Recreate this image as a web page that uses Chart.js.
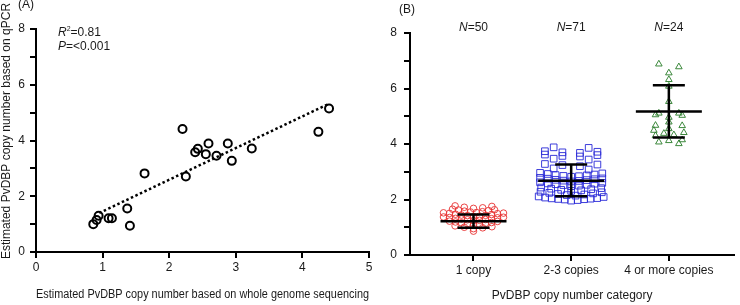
<!DOCTYPE html>
<html>
<head>
<meta charset="utf-8">
<script src="https://cdn.jsdelivr.net/npm/chart.js@4.4.1/dist/chart.umd.min.js"></script>
<style>
  html, body { margin: 0; padding: 0; background: #fff; }
  #wrap { position: relative; width: 740px; height: 305px; overflow: hidden; }
  #wgsChart { position: absolute; left: 0; top: 0; }
  #catChart { position: absolute; left: 370px; top: 0; }
</style>
</head>
<body>
<div id="wrap">
  <canvas id="wgsChart" width="400" height="305"></canvas>
  <canvas id="catChart" width="370" height="305"></canvas>
</div>
<script>
// ---- panel A: WGS estimate vs qPCR estimate ----
const wgsCopies  = [0.86, 0.91, 0.94, 1.09, 1.14, 1.37, 1.41, 1.63, 2.20, 2.25, 2.39, 2.43, 2.55, 2.59, 2.71, 2.88, 2.94, 3.24, 4.24, 4.40];
const qpcrCopies = [1.00, 1.15, 1.30, 1.21, 1.21, 1.56, 0.94, 2.82, 4.41, 2.71, 3.58, 3.70, 3.51, 3.89, 3.45, 3.89, 3.27, 3.71, 4.31, 5.15];
const fitX = [0.95, 4.40];
const fitY = [1.40, 5.32];
const statLabels = ['=0.81', '=<0.001'];

// ---- panel B: qPCR copy number by category ----
const categories = ['1 copy', '2-3 copies', '4 or more copies'];
const sampleSizes = [50, 71, 24];
const oneCopy = [
  0.86,
  0.95, 0.98, 1.00, 1.02, 1.05,
  1.09, 1.11, 1.13, 1.14, 1.16, 1.17, 1.19, 1.21, 1.22,
  1.24, 1.25, 1.27, 1.28, 1.30, 1.31, 1.32, 1.34, 1.35, 1.36, 1.37,
  1.39, 1.40, 1.42, 1.43, 1.44, 1.46, 1.47, 1.49, 1.50, 1.51, 1.52,
  1.53, 1.55, 1.56, 1.58, 1.60, 1.62, 1.63, 1.65,
  1.68, 1.70, 1.72, 1.75, 1.77
];
const twoThreeCopies = [
  1.96, 1.98, 2.00, 2.01, 2.02, 2.03, 2.04, 2.05, 2.07, 2.09, 2.11,
  2.14, 2.16, 2.18, 2.20, 2.22, 2.24, 2.26, 2.28,
  2.31, 2.33, 2.35, 2.37, 2.39, 2.41, 2.43,
  2.48, 2.50, 2.52, 2.53, 2.55, 2.57, 2.58, 2.60, 2.62,
  2.65, 2.67, 2.68, 2.70, 2.71, 2.73, 2.75, 2.76, 2.78,
  2.82, 2.84, 2.85, 2.87, 2.88, 2.90, 2.92, 2.94, 2.96,
  3.08, 3.12,
  3.20, 3.24, 3.26, 3.28,
  3.44, 3.47,
  3.55, 3.57, 3.60, 3.62,
  3.68, 3.70, 3.72, 3.74,
  3.86, 3.88
];
const fourPlusCopies = [
  4.01, 4.07, 4.12, 4.15, 4.30, 4.33, 4.38, 4.41, 4.49, 4.55, 4.66, 4.67,
  4.79, 4.96, 5.03, 5.05, 5.11, 5.11, 5.53, 6.08, 6.32, 6.56, 6.78, 6.88
];
const groupMeans = [1.22, 2.68, 5.17];
const groupUpper = [1.46, 3.26, 6.12];
const groupLower = [0.98, 2.12, 4.23];

const fontFamily = 'Arial, "Liberation Sans", sans-serif';
const ink = '#1a1a1a';
Chart.defaults.font.family = fontFamily;
Chart.defaults.font.size = 12;
Chart.defaults.color = ink;
Chart.defaults.animation = false;

const axisGrid = { display: true, drawOnChartArea: false, drawTicks: true, tickLength: 6, color: '#000', lineWidth: 2 };
const axisBorder = { display: true, color: '#000', width: 2 };

// texts for panel A
const panelAText = {
  id: 'panelAText',
  afterDraw(chart) {
    const ctx = chart.ctx;
    const area = chart.chartArea;
    ctx.save();
    ctx.fillStyle = ink;
    ctx.textBaseline = 'middle';
    ctx.textAlign = 'left';
    ctx.font = `12px ${fontFamily}`;
    ctx.fillText('(A)', 18, 5);

    const x0 = area.left + 22;
    const rows = [['R', statLabels[0], true], ['P', statLabels[1], false]];
    rows.forEach((r, i) => {
      const y0 = area.top + 4 + i * 14;
      ctx.font = `italic 12px ${fontFamily}`;
      ctx.fillText(r[0], x0, y0);
      let w = ctx.measureText(r[0]).width;
      if (r[2]) {
        ctx.font = `7px ${fontFamily}`;
        ctx.fillText('2', x0 + w, y0 - 4);
        w += ctx.measureText('2').width;
      }
      ctx.font = `12px ${fontFamily}`;
      ctx.fillText(r[1], x0 + w, y0);
    });

    // y axis title
    ctx.translate(7, 131);
    ctx.rotate(-Math.PI / 2);
    ctx.textAlign = 'center';
    ctx.fillText('Estimated PvDBP copy number based on qPCR', 0, 0);
    ctx.restore();
  }
};

new Chart(document.getElementById('wgsChart'), {
  type: 'scatter',
  data: {
    datasets: [{
      data: wgsCopies.map((x, i) => ({ x, y: qpcrCopies[i] })),
      pointStyle: 'circle',
      pointRadius: 4,
      borderColor: '#000',
      backgroundColor: 'rgba(0,0,0,0)',
      borderWidth: 2,
      order: 0
    }, {
      data: fitX.map((x, i) => ({ x, y: fitY[i] })),
      showLine: true,
      pointRadius: 0,
      borderColor: '#000',
      borderWidth: 2.5,
      borderDash: [2.5, 2.5],
      order: 1
    }]
  },
  options: {
    responsive: false,
    layout: { padding: { left: 0, right: 31, top: 29, bottom: 0 } },
    plugins: { legend: { display: false }, tooltip: { enabled: false } },
    scales: {
      x: {
        type: 'linear', min: 0, max: 5,
        ticks: { stepSize: 1, padding: 2 },
        grid: axisGrid, border: axisBorder,
        title: { display: true, text: 'Estimated PvDBP copy number based on whole genome sequencing', padding: { top: 0, bottom: 3 } },
        afterFit: s => { s.height = 53; }
      },
      y: {
        type: 'linear', min: 0, max: 8,
        ticks: { stepSize: 1, padding: 5, callback: v => (v % 2 === 0 ? v : '') },
        grid: axisGrid, border: axisBorder,
        afterFit: s => { s.width = 36; }
      }
    }
  },
  plugins: [panelAText]
});

// texts, means and SD bars for panel B
const panelBText = {
  id: 'panelBText',
  afterDatasetsDraw(chart) {
    const ctx = chart.ctx;
    const xs = chart.scales.x, ys = chart.scales.y;
    ctx.save();
    ctx.strokeStyle = '#000';
    ctx.lineWidth = 2.5;
    categories.forEach((c, i) => {
      const cx = xs.getPixelForValue(i + 1);
      const ym = ys.getPixelForValue(groupMeans[i]);
      const yu = ys.getPixelForValue(groupUpper[i]);
      const yl = ys.getPixelForValue(groupLower[i]);
      ctx.beginPath();
      ctx.moveTo(cx - 33, ym); ctx.lineTo(cx + 33, ym);
      ctx.moveTo(cx - 16, yu); ctx.lineTo(cx + 16, yu);
      ctx.moveTo(cx - 16, yl); ctx.lineTo(cx + 16, yl);
      ctx.moveTo(cx, yu); ctx.lineTo(cx, yl);
      ctx.stroke();
    });
    ctx.restore();
  },
  afterDraw(chart) {
    const ctx = chart.ctx;
    const xs = chart.scales.x;
    ctx.save();
    ctx.fillStyle = ink;
    ctx.textBaseline = 'middle';
    ctx.textAlign = 'left';
    ctx.font = `12px ${fontFamily}`;
    ctx.fillText('(B)', 29, 10);
    sampleSizes.forEach((n, i) => {
      const cx = xs.getPixelForValue(i + 1);
      const rest = '=' + n;
      ctx.font = `italic 12px ${fontFamily}`;
      const wN = ctx.measureText('N').width;
      ctx.font = `12px ${fontFamily}`;
      const wR = ctx.measureText(rest).width;
      const x0 = cx - (wN + wR) / 2;
      const y0 = chart.chartArea.top - 5;
      ctx.font = `italic 12px ${fontFamily}`;
      ctx.fillText('N', x0, y0);
      ctx.font = `12px ${fontFamily}`;
      ctx.fillText(rest, x0 + wN, y0);
    });
    ctx.restore();
  }
};

const groups = [oneCopy, twoThreeCopies, fourPlusCopies];
const groupStyles = [
  { pointStyle: 'circle', pointRadius: 3.3, borderColor: 'rgba(232,50,50,0.9)', rowStep: 0.145, gap: 6, fill: 46 },
  { pointStyle: 'rect', pointRadius: 4.7, borderColor: 'rgba(40,40,215,0.9)', rowStep: 0.17, gap: 6.5, fill: 70 },
  { pointStyle: 'triangle', pointRadius: 3.8, borderColor: 'rgba(50,130,50,0.95)', rowStep: 0.2, gap: 9, fill: 40 }
];

const catChart = new Chart(document.getElementById('catChart'), {
  type: 'scatter',
  data: {
    datasets: groups.map((vals, g) => ({
      data: vals.map(v => ({ x: g + 1, y: v })),
      pointStyle: groupStyles[g].pointStyle,
      pointRadius: groupStyles[g].pointRadius,
      borderColor: groupStyles[g].borderColor,
      backgroundColor: 'rgba(0,0,0,0)',
      borderWidth: 1
    }))
  },
  options: {
    responsive: false,
    layout: { padding: { left: 0, right: 0, top: 33, bottom: 0 } },
    plugins: { legend: { display: false }, tooltip: { enabled: false } },
    scales: {
      x: {
        type: 'linear', min: 0.35, max: 3.67,
        afterBuildTicks: s => { s.ticks = categories.map((c, i) => ({ value: i + 1 })); },
        ticks: { autoSkip: false, maxRotation: 0, padding: 2, callback: v => categories[Math.round(v) - 1] },
        grid: axisGrid, border: axisBorder,
        title: { display: true, text: 'PvDBP copy number category', padding: { top: 0, bottom: 2 } },
        afterFit: s => { s.height = 50; }
      },
      y: {
        type: 'linear', min: 0, max: 8,
        ticks: { stepSize: 1, padding: 7, callback: v => (v % 2 === 0 ? v : '') },
        grid: axisGrid, border: axisBorder,
        afterFit: s => { s.width = 40; }
      }
    }
  },
  plugins: [panelBText]
});

// spread the dots of each category into rows, smallest value of a row in the middle;
// sparse rows are pulled wider, like the prism-style scatter
function spreadRows(chart, vals, cat, st) {
  const xs = chart.scales.x;
  const cx = xs.getPixelForValue(cat);
  const rows = {};
  vals.forEach((v, i) => {
    const k = Math.round(v / st.rowStep);
    (rows[k] = rows[k] || []).push(i);
  });
  const out = new Array(vals.length);
  Object.values(rows).forEach(idx => {
    idx.sort((a, b) => vals[a] - vals[b]);
    const n = idx.length;
    const step = Math.max(st.gap, st.fill / n);
    idx.forEach((id, k) => {
      let off;
      if (n % 2) off = k === 0 ? 0 : Math.ceil(k / 2) * (k % 2 ? 1 : -1);
      else off = (Math.floor(k / 2) + 0.5) * (k % 2 ? -1 : 1);
      out[id] = xs.getValueForPixel(cx + off * step);
    });
  });
  return out;
}

groups.forEach((vals, g) => {
  const xv = spreadRows(catChart, vals, g + 1, groupStyles[g]);
  catChart.data.datasets[g].data = vals.map((v, i) => ({ x: xv[i], y: v }));
});
catChart.update('none');
</script>
</body>
</html>
